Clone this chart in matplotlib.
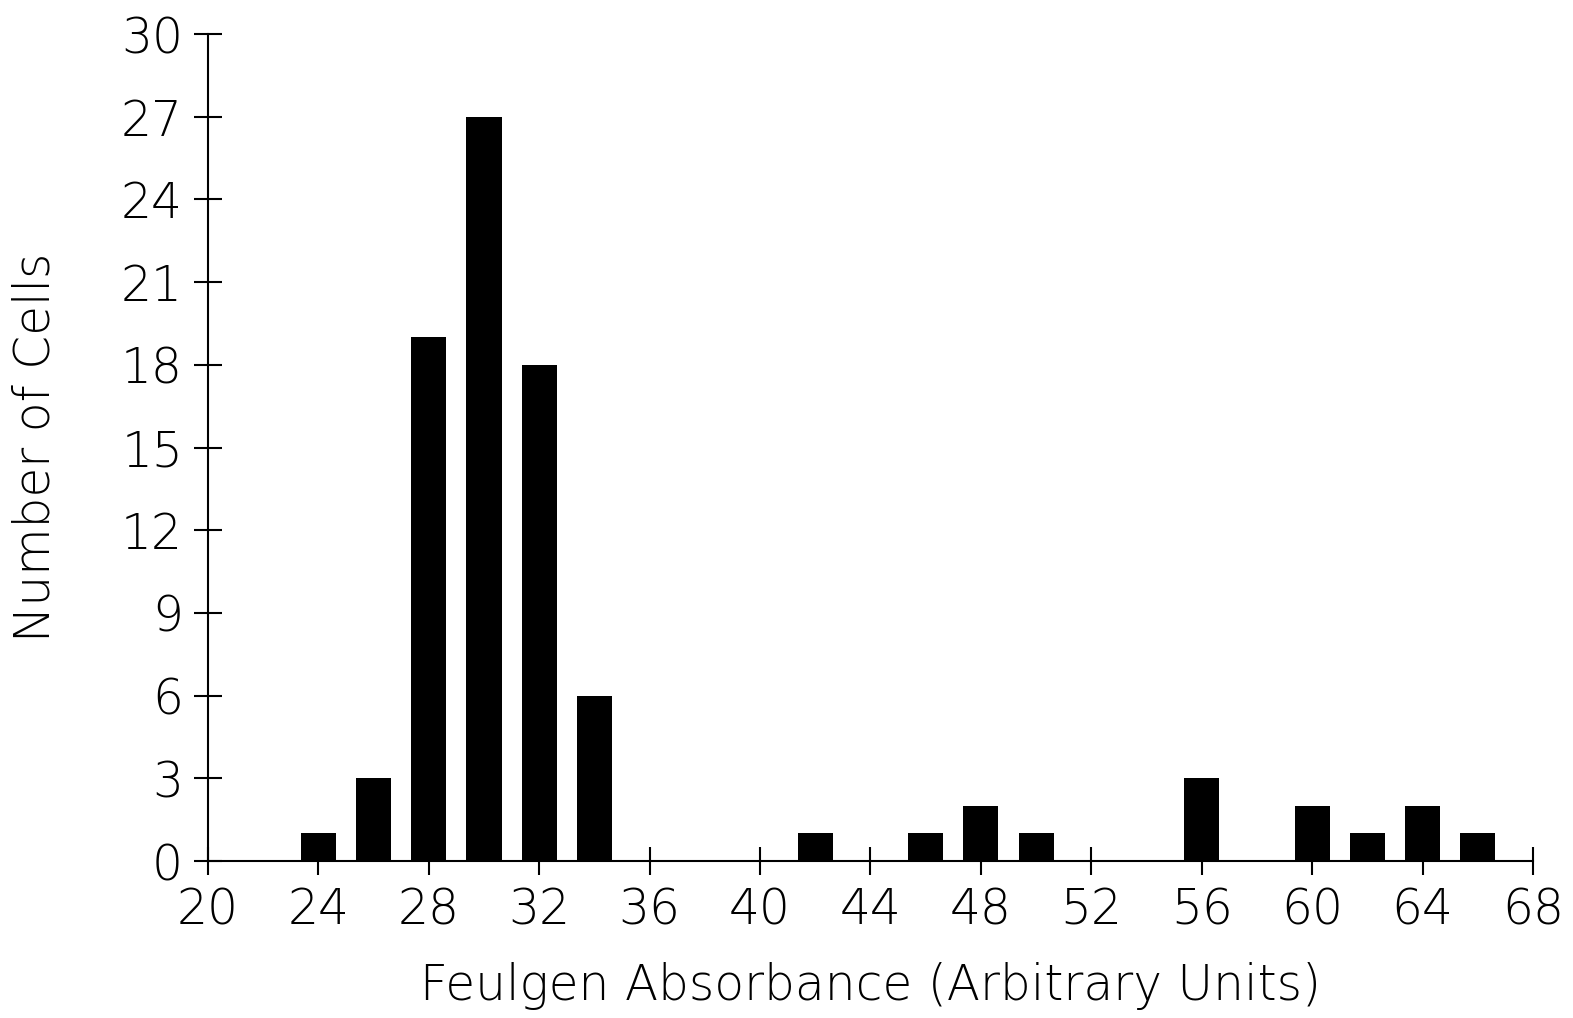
import matplotlib
matplotlib.use("Agg")
import matplotlib.pyplot as plt

# histogram of Feulgen absorbance per cell
absorbance = [24, 26, 28, 30, 32, 34, 42, 46, 48, 50, 56, 60, 62, 64, 66]
cell_counts = [1, 3, 19, 27, 18, 6, 1, 1, 2, 1, 3, 2, 1, 2, 1]

x_ticks = list(range(20, 69, 4))
y_ticks = list(range(0, 31, 3))

plt.rcParams['font.family'] = ['DejaVu Sans']
plt.rcParams['font.weight'] = 'light'
plt.rcParams['axes.labelweight'] = 'light'

fig = plt.figure(figsize=(15.73, 10.18), dpi=100)
ax = fig.add_axes([0.1322, 0.1542, 0.8424, 0.8124])

ax.bar(absorbance, cell_counts, width=1.27, color='black', zorder=3)

ax.set_xlim(20, 68)
ax.set_ylim(0, 30)
ax.set_xticks(x_ticks)
ax.set_yticks(y_ticks)

for side in ['top', 'right']:
    ax.spines[side].set_visible(False)
for side in ['left', 'bottom']:
    ax.spines[side].set_linewidth(1.5)

ax.tick_params(axis='both', direction='inout', length=20, width=1.5,
               labelsize=35, pad=8)

ax.set_xlabel("Feulgen Absorbance (Arbitrary Units)", fontsize=35, labelpad=20)
ax.set_ylabel("Number of Cells", fontsize=35, labelpad=44)

fig.savefig("out.png", dpi=100)
